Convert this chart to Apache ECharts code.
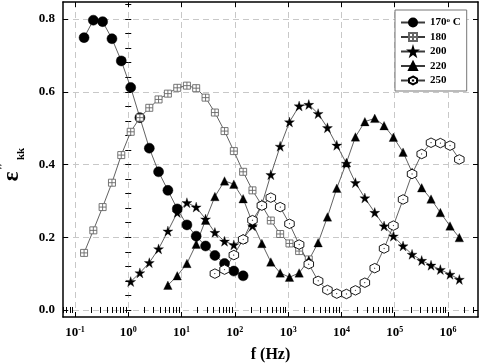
<!DOCTYPE html>
<html><head><meta charset="utf-8">
<script src="https://cdn.jsdelivr.net/npm/echarts@6.0.0/dist/echarts.min.js"></script>
<style>html,body{margin:0;padding:0;background:#fff}#c{width:481px;height:363px}</style>
</head><body><div id="c"></div>
<script>
// Shared measurement frequencies (Hz)
const freqHz = [0.148,0.221,0.330,0.494,0.739,1.11,1.65,2.48,3.70,5.54,8.30,12.6,18.8,28.2,42.2,64.0,95.7,143,214,321,473,708,1059,1607,2440,3652,5463,8176,12400,18300,27500,42170,63100,94400,143300,211300,320700,479900,718000,1090000,1630000];

// Series: index of first frequency and eps''_kk values
const start170 = 0;
const eps170 = [0.749,0.797,0.793,0.746,0.685,0.612,0.529,0.445,0.380,0.329,0.278,0.234,0.203,0.176,0.150,0.128,0.107,0.094];
const start180 = 0;
const eps180 = [0.157,0.219,0.283,0.350,0.426,0.490,0.529,0.556,0.579,0.595,0.611,0.617,0.610,0.584,0.543,0.492,0.437,0.380,0.329,0.288,0.246,0.209,0.183,0.162,0.139];
const start200 = 5;
const eps200 = [0.078,0.102,0.130,0.168,0.217,0.268,0.295,0.283,0.250,0.213,0.189,0.179,0.195,0.231,0.290,0.372,0.450,0.517,0.561,0.565,0.540,0.501,0.453,0.403,0.350,0.308,0.268,0.231,0.203,0.176,0.153,0.136,0.123,0.111,0.098,0.084];
const start220 = 9;
const eps220 = [0.068,0.094,0.128,0.181,0.247,0.312,0.355,0.346,0.306,0.240,0.183,0.132,0.102,0.090,0.102,0.137,0.185,0.256,0.335,0.405,0.476,0.518,0.527,0.507,0.475,0.434,0.379,0.336,0.305,0.268,0.231,0.199];
const start250 = 14;
const eps250 = [0.100,0.111,0.151,0.194,0.247,0.287,0.309,0.283,0.237,0.180,0.126,0.080,0.055,0.045,0.044,0.054,0.075,0.115,0.169,0.232,0.304,0.374,0.429,0.460,0.459,0.452,0.414];

const seriesNames = ['170','180','200','220','250'];
const xDecades = [-1,0,1,2,3,4,5,6];
const yTickLabels = [0,0.2,0.4,0.6,0.8];

const X_MIN = -1.225, X_MAX = 6.5625;
const Y_MIN = -0.0193, Y_MAX = 0.847;

const xMinor = [];
for (let n = -2; n <= 6; n++) for (let k = 2; k <= 9; k++) {
  const v = n + Math.log10(k);
  if (v > X_MIN && v < X_MAX) xMinor.push(v);
}
const yMinor = [];
for (let i = 0; i <= 21; i++) yMinor.push(+(i * 0.04).toFixed(2));

function toPts(start, vals) {
  return vals.map((v, i) => [Math.log10(freqHz[start + i]), v]);
}

const FONT = 'Liberation Serif';
const LINE = {color: '#3a3a3a', width: 0.8};
const SQ = 'path://M0,0H10V10H0Z M5,0V10 M0,5H10';
const STAR = 'path://M50,0L61.2,34.5L97.6,34.5L68.2,55.9L79.4,90.5L50,69.1L20.6,90.5L31.8,55.9L2.4,34.5L38.8,34.5Z';
const HEX = 'path://M50,0L93.3,25L93.3,75L50,100L6.7,75L6.7,25Z M48.5,48.5H51.5V51.5H48.5Z';

const axisCommon = (extra) => Object.assign({
  type: 'value', min: X_MIN, max: X_MAX,
  axisLine: {show: false},
  axisTick: {show: false},
  axisLabel: {show: false},
  splitLine: {show: false}
}, extra);

const option = {
  animation: false,
  backgroundColor: '#fff',
  grid: {left: 63, right: 3, top: 2, bottom: 46, outerBoundsMode: 'none', containLabel: false},
  legend: {
    orient: 'vertical', left: 395, top: 10,
    data: seriesNames,
    itemWidth: 24, itemHeight: 10, itemGap: 3.5,
    padding: [7, 6, 5, 5],
    borderColor: '#777', borderWidth: 1, backgroundColor: '#fff',
    textStyle: {fontFamily: FONT, fontWeight: 'bold', fontSize: 11, color: '#000',
      rich: {s: {fontFamily: FONT, fontWeight: 'bold', fontSize: 7, color: '#000', verticalAlign: 'top', lineHeight: 11}}},
    formatter: (n) => n === '170' ? '170{s|o} C' : n
  },
  xAxis: [
    axisCommon({
      position: 'bottom',
      axisLine: {show: true, onZero: false, lineStyle: {color: '#000', width: 1.5}},
      axisTick: {show: true, inside: true, length: 5, customValues: xDecades, lineStyle: {color: '#000', width: 1}},
      axisLabel: {show: true, customValues: xDecades, margin: 9, color: '#000',
        fontFamily: FONT, fontWeight: 'bold', fontSize: 13,
        formatter: (v) => '10{s|' + Math.round(v) + '}',
        rich: {s: {fontFamily: FONT, fontWeight: 'bold', fontSize: 8, color: '#000', verticalAlign: 'top', lineHeight: 14}}},
      splitLine: {show: true, lineStyle: {color: '#c8c8c8', type: [6, 4], width: 1}},
      name: 'f (Hz)', nameLocation: 'middle', nameGap: 30,
      nameTextStyle: {fontFamily: FONT, fontWeight: 'bold', fontSize: 16, color: '#000'}
    }),
    axisCommon({position: 'bottom',
      axisTick: {show: true, inside: true, length: 3, customValues: xMinor, lineStyle: {color: '#000', width: 1}}}),
    axisCommon({position: 'top',
      axisLine: {show: true, onZero: false, lineStyle: {color: '#000', width: 1.5}},
      axisTick: {show: true, inside: true, length: 5, customValues: xDecades, lineStyle: {color: '#000', width: 1}}}),
    axisCommon({position: 'top',
      axisTick: {show: true, inside: true, length: 3, customValues: xMinor, lineStyle: {color: '#000', width: 1}}})
  ],
  yAxis: [
    {type: 'value', min: Y_MIN, max: Y_MAX, position: 'left',
      axisLine: {show: true, onZero: false, lineStyle: {color: '#000', width: 1.5}},
      axisTick: {show: true, inside: true, length: 5, customValues: yTickLabels, lineStyle: {color: '#000', width: 1}},
      axisLabel: {show: true, customValues: yTickLabels, margin: 8, color: '#000',
        fontFamily: FONT, fontWeight: 'bold', fontSize: 13, formatter: (v) => v.toFixed(1)},
      splitLine: {show: true, lineStyle: {color: '#c8c8c8', type: [6, 4], width: 1}},
      name: '{e|ε}{p|\u2033}{s|kk}', nameLocation: 'middle', nameGap: 36, nameRotate: 90,
      nameTextStyle: {color: '#000', fontFamily: FONT, fontWeight: 'bold',
        rich: {
          e: {fontFamily: FONT, fontWeight: 'bold', fontSize: 23, color: '#000', lineHeight: 30},
          p: {fontFamily: FONT, fontWeight: 'bold', fontSize: 15, color: '#000', verticalAlign: 'top', lineHeight: 15, padding: [0, 2, 0, 1]},
          s: {fontFamily: FONT, fontWeight: 'bold', fontSize: 11, color: '#000', verticalAlign: 'bottom', lineHeight: 11, padding: [0, 10, 0, 0]}
        }}
    },
    {type: 'value', min: Y_MIN, max: Y_MAX, position: 'left',
      axisLine: {show: false}, axisLabel: {show: false}, splitLine: {show: false},
      axisTick: {show: true, inside: true, length: 3, customValues: yMinor, lineStyle: {color: '#000', width: 1}}},
    {type: 'value', min: Y_MIN, max: Y_MAX, position: 'right',
      axisLine: {show: true, onZero: false, lineStyle: {color: '#000', width: 1.5}},
      axisLabel: {show: false}, splitLine: {show: false},
      axisTick: {show: true, inside: true, length: 5, customValues: yTickLabels, lineStyle: {color: '#000', width: 1}}},
    {type: 'value', min: Y_MIN, max: Y_MAX, position: 'right',
      axisLine: {show: false}, axisLabel: {show: false}, splitLine: {show: false},
      axisTick: {show: true, inside: true, length: 3, customValues: yMinor, lineStyle: {color: '#000', width: 1}}}
  ],
  series: [
    {name: '170', type: 'line', data: toPts(start170, eps170), symbol: 'circle', symbolSize: 10,
      itemStyle: {color: '#000', borderColor: '#000', borderWidth: 0.5}, lineStyle: LINE},
    {name: '180', type: 'line', data: toPts(start180, eps180), symbol: SQ, symbolSize: 7,
      itemStyle: {color: '#fff', borderColor: '#666', borderWidth: 0.9}, lineStyle: LINE},
    {name: '200', type: 'line', data: toPts(start200, eps200), symbol: STAR, symbolSize: 10,
      itemStyle: {color: '#000', borderColor: '#000', borderWidth: 0.3}, lineStyle: LINE},
    {name: '220', type: 'line', data: toPts(start220, eps220), symbol: 'triangle', symbolSize: 8.5,
      itemStyle: {color: '#000', borderColor: '#000', borderWidth: 0.3}, lineStyle: LINE},
    {name: '250', type: 'line', data: toPts(start250, eps250), symbol: HEX, symbolSize: 9.5,
      itemStyle: {color: '#fff', borderColor: '#000', borderWidth: 0.9}, lineStyle: LINE}
  ].map(s => Object.assign(s, {xAxisIndex: 0, yAxisIndex: 0, showAllSymbol: true, emphasis: {disabled: true}, z: 3}))
};

const chart = echarts.init(document.getElementById('c'), null, {renderer: 'canvas'});
chart.setOption(option);
</script>
</body></html>
